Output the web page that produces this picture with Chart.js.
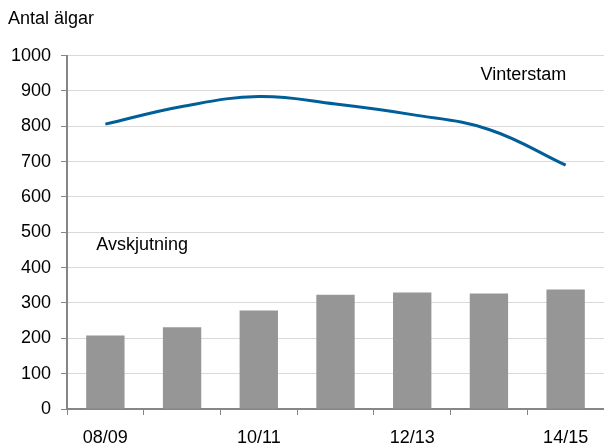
<!DOCTYPE html>
<html lang="sv">
  <head>
    <meta charset="utf-8" />
    <title>Antal älgar</title>
    <script src="https://cdn.jsdelivr.net/npm/chart.js@4/dist/chart.umd.min.js"></script>
    <style>
      html, body { margin: 0; padding: 0; background: #fff; }
      #wrap { width: 604px; height: 443px; }
    </style>
  </head>
  <body>
    <div id="wrap"><canvas id="chart"></canvas></div>
  </body>

  <script>
    const seasons = ["08/09", "09/10", "10/11", "11/12", "12/13", "13/14", "14/15"]
    const vinterstam = [806, 856, 884, 863, 833, 791, 690]
    const avskjutning = [208, 231, 279, 323, 330, 327, 338]
    const yTicks = [0, 100, 200, 300, 400, 500, 600, 700, 800, 900, 1000]

    const FONT = "'Liberation Sans', Arial, sans-serif"

    // series names written inside the plot, placed through the scales
    const seriesNotes = {
      id: "seriesNotes",
      afterDatasetsDraw(chart) {
        const { ctx, scales } = chart
        const notes = [
          { text: "Vinterstam", x: 5.45, y: 945 },
          { text: "Avskjutning", x: 0.48, y: 463 },
        ]
        ctx.save()
        ctx.font = "18px " + FONT
        ctx.fillStyle = "#000"
        ctx.textAlign = "center"
        ctx.textBaseline = "middle"
        notes.forEach(n => {
          ctx.fillText(n.text, scales.x.getPixelForValue(n.x), scales.y.getPixelForValue(n.y))
        })
        ctx.restore()
      },
    }

    new Chart(document.getElementById("chart"), {
      data: {
        labels: seasons,
        datasets: [
          {
            type: "line",
            label: "Vinterstam",
            data: vinterstam,
            borderColor: "#005f99",
            borderWidth: 3,
            pointRadius: 0,
            tension: 0.4,
            fill: false,
            order: 0,
          },
          {
            type: "bar",
            label: "Avskjutning",
            data: avskjutning,
            backgroundColor: "#969696",
            barPercentage: 0.5,
            categoryPercentage: 1,
            order: 1,
          },
        ],
      },
      options: {
        responsive: true,
        maintainAspectRatio: false,
        animation: false,
        layout: { padding: { left: 8, right: 0, top: 0, bottom: 0 } },
        plugins: {
          legend: { display: false },
          tooltip: { enabled: false },
          title: {
            display: true,
            text: "Antal älgar",
            align: "start",
            color: "#000",
            font: { family: FONT, size: 18, weight: "normal" },
            padding: { top: 8, bottom: 26 },
          },
        },
        scales: {
          x: {
            offset: true,
            afterFit: axis => {
              axis.height = 34
            },
            grid: {
              offset: true,
              drawOnChartArea: false,
              color: "#868686",
              tickLength: 6,
            },
            border: { color: "#868686", width: 2 },
            ticks: {
              autoSkip: false,
              maxRotation: 0,
              color: "#000",
              padding: 12,
              font: { family: FONT, size: 18 },
              callback: (v, i) => (i % 2 === 0 ? seasons[i] : ""),
            },
          },
          y: {
            min: 0,
            max: 1000,
            afterBuildTicks: axis => {
              axis.ticks = yTicks.map(v => ({ value: v }))
            },
            afterFit: axis => {
              axis.width = 59
            },
            grid: {
              color: "#d9d9d9",
              tickColor: "#868686",
              tickLength: 6,
            },
            border: { color: "#868686", width: 2 },
            ticks: {
              color: "#000",
              padding: 10,
              font: { family: FONT, size: 18 },
              callback: v => String(v),
            },
          },
        },
      },
      plugins: [seriesNotes],
    })
  </script>
</html>
